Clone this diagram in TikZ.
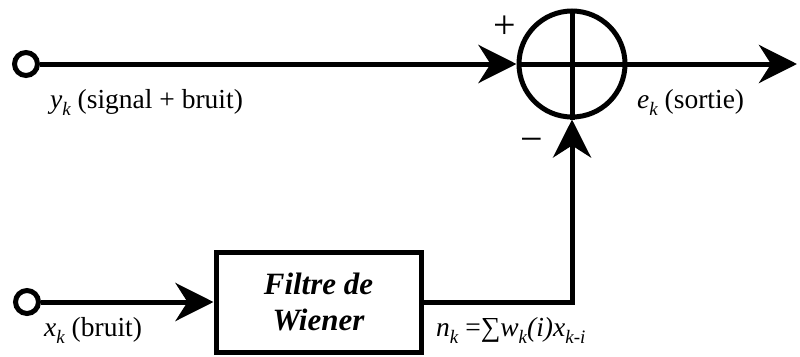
\documentclass[tikz,border=0pt]{standalone}
\usepackage{fontspec}
\setmainfont{Liberation Serif}
\usetikzlibrary{arrows.meta}
\newcommand\sbs[1]{\raisebox{-0.28em}{\fontsize{19}{19}\selectfont\itshape #1}}
\tikzset{
  wire/.style={line width=5pt},
  arr/.style={wire, -{Stealth[length=38pt, width=38pt, inset=12pt]}},
  port/.style={circle, draw, line width=5pt, minimum size=23pt, inner sep=0pt, fill=white},
  lbl/.style={inner sep=0pt, anchor=base west, font=\fontsize{27.5}{30}\selectfont},
  sign/.style={inner sep=0pt, font=\fontsize{40}{40}\selectfont},
}
\begin{document}
\begin{tikzpicture}[x=1pt, y=-1pt]
\useasboundingbox (0,0) rectangle (800,356);
% summing junction
\node[circle, draw, line width=5pt, minimum size=106pt, inner sep=0pt] (sum) at (572,64) {};
\draw[wire] (sum.north) -- (sum.south);
\draw[wire] (sum.west) -- (sum.east);
% inputs
\node[port] (in1) at (26,64) {};
\node[port] (in2) at (27,302) {};
% filter
\node[draw, line width=5pt, minimum width=205pt, minimum height=100pt, inner sep=0pt,
      align=center, font=\fontsize{31}{36}\selectfont\bfseries\itshape] (filt) at (318.5,302) {Filtre de\\Wiener};
\coordinate (out) at (797,64);
% connectors
\draw[arr] (in1) -- (sum.west);
\draw[arr] (sum.east) -- (out);
\draw[arr] (in2) -- (filt.west);
\draw[arr] (filt.east) -| (sum.south);
% labels
\node[lbl] (ly) at (50,108) {\textit{y}\sbs{k} (signal + bruit)};
\node[lbl] (le) at (637,108) {\textit{e}\sbs{k} (sortie)};
\node[lbl] (lx) at (44,336) {\textit{x}\sbs{k} (bruit)};
\node[lbl] (ln) at (436,336) {\textit{n}\sbs{k} =∑\textit{w}\sbs{k}\textit{(i)x}\sbs{k-i}};
\node[sign] (plus) at (505,27) {+};
\node[sign] (minus) at (532,145) {−};
\end{tikzpicture}
\end{document}
